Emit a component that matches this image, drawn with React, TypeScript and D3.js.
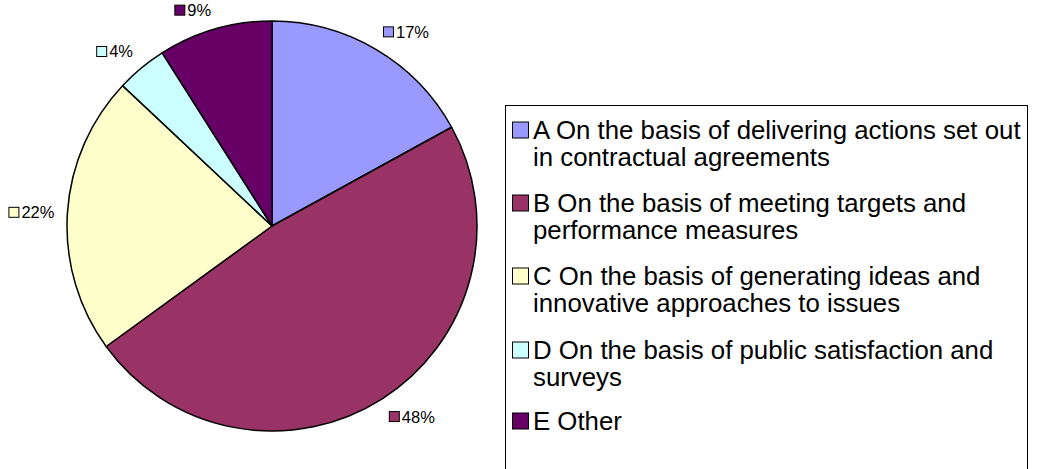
import React from "react";
import * as d3 from "d3";

const categories = ["A", "B", "C", "D", "E"];
const values = [17, 48, 22, 4, 9];
const pctLabels = ["17%", "48%", "22%", "4%", "9%"];
const colors = ["#9999FF", "#993366", "#FFFFCC", "#CCFFFF", "#660066"];
const legendLines = [
  ["A On the basis of delivering actions set out", "in contractual agreements"],
  ["B On the basis of meeting targets and", "performance measures"],
  ["C On the basis of generating ideas and", "innovative approaches to issues"],
  ["D On the basis of public satisfaction and", "surveys"],
  ["E Other"],
];

export default function App() {
  const W = 1039, H = 469;
  const cx = 272, cy = 226, r = 205;
  const pie = d3.pie<number>().sort(null).value((d) => d);
  const arcs = pie(values);
  const arc = d3.arc<d3.PieArcDatum<number>>().innerRadius(0).outerRadius(r);
  const labelR = 218;
  const fs = 16.5;
  const lh = 13;

  const legX = 505, legY = 105, legW = 522, legH = 380;
  const entryTop = [130, 203, 276, 350, 421];

  return (
    <svg width={W} height={H} style={{ position: "absolute", left: 0, top: 0 }} fontFamily="Arial, 'Liberation Sans', sans-serif">
      <rect width={W} height={H} fill="#fff" />
      <g transform={`translate(${cx},${cy})`}>
        {arcs.map((a, i) => (
          <path key={categories[i]} d={arc(a) || ""} fill={colors[i]} stroke="#000" strokeWidth={1.5} strokeLinejoin="round" />
        ))}
      </g>
      {arcs.map((a, i) => {
        const mid = (a.startAngle + a.endAngle) / 2;
        const dx = Math.sin(mid), dy = -Math.cos(mid);
        const px = cx + labelR * dx, py = cy + labelR * dy;
        const textW = (pctLabels[i].length - 1) * fs * 0.556 + fs * 0.889;
        const boxW = 10 + 3 + textW;
        const left = dx >= 0 ? px : px - boxW;
        const cyBox = Math.abs(dx) > 0.95 ? py : py + (dy < 0 ? -lh / 2 : lh / 2);
        return (
          <g key={"l" + i}>
            <rect x={left + 0.5} y={cyBox - 5} width={10} height={10} fill={colors[i]} stroke="#000" strokeWidth={1} />
            <text x={left + 13} y={cyBox} dy="0.36em" fontSize={fs} fill="#000">{pctLabels[i]}</text>
          </g>
        );
      })}
      <rect x={legX + 0.5} y={legY + 0.5} width={legW} height={legH} fill="#fff" stroke="#000" strokeWidth={1} />
      {legendLines.map((lines, i) => (
        <g key={"lg" + i}>
          <rect x={512.5} y={entryTop[i] - 8} width={16} height={16} fill={colors[i]} stroke="#000" strokeWidth={1} />
          {lines.map((t, j) => (
            <text key={j} x={533} y={entryTop[i] + j * 27} dy="0.36em" fontSize={25.8} fill="#000">{t}</text>
          ))}
        </g>
      ))}
    </svg>
  );
}
